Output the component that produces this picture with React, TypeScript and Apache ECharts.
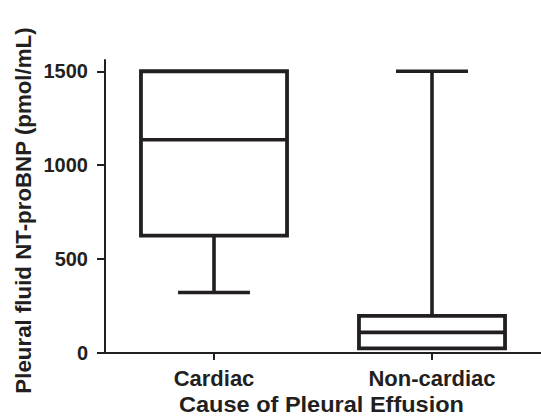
import React, { useEffect, useRef } from "react";
import * as echarts from "echarts";

const categories = ["Cardiac", "Non-cardiac"];
// [min, Q1, median, Q3, max]
const boxValues = [
  [322, 625, 1135, 1500, 1500],
  [25, 25, 110, 198, 1500],
];
const yTicks = [0, 500, 1000, 1500];
const yTitle = "Pleural fluid NT-proBNP (pmol/mL)";
const xTitle = "Cause of Pleural Effusion";

const INK = "#231f20";
const FONT = "'Liberation Sans', Arial, sans-serif";

export default function App() {
  const ref = useRef<HTMLDivElement>(null);
  useEffect(() => {
    if (!ref.current) return;
    const chart = echarts.init(ref.current, null, { renderer: "svg" });
    const data = boxValues.map((v, i) => [i, ...v]);
    chart.setOption({
      animation: false,
      backgroundColor: "#ffffff",
      grid: { left: 105, right: 0, top: 60, bottom: 63, containLabel: false, outerBoundsMode: "none" },
      graphic: [
        {
          type: "text",
          x: 23,
          y: 210.5,
          rotation: Math.PI / 2,
          style: {
            text: yTitle,
            fill: INK,
            font: `bold 22.3px ${FONT}`,
            align: "center",
            verticalAlign: "middle",
          },
        },
        {
          type: "text",
          x: 321.5,
          y: 404,
          scaleX: 1.07,
          style: {
            text: xTitle,
            fill: INK,
            font: `bold 22px ${FONT}`,
            align: "center",
            verticalAlign: "middle",
          },
        },
      ],
      xAxis: {
        type: "category",
        data: categories,
        boundaryGap: true,
        axisLine: { show: true, lineStyle: { color: INK, width: 2 } },
        axisTick: { show: true, alignWithLabel: true, length: 7, lineStyle: { color: INK, width: 2 } },
        axisLabel: { color: INK, fontSize: 22, fontWeight: "bold", fontFamily: FONT, margin: 14 },
        splitLine: { show: false },
      },
      yAxis: {
        type: "value",
        min: 0,
        max: 1560,
        axisLine: { show: true, lineStyle: { color: INK, width: 2 } },
        axisTick: { show: true, length: 8, customValues: yTicks, lineStyle: { color: INK, width: 2 } },
        axisLabel: {
          color: INK,
          fontSize: 20,
          fontWeight: "bold",
          fontFamily: FONT,
          margin: 17,
          customValues: yTicks,
          formatter: (v: number) => String(v),
        },
        splitLine: { show: false },
      },
      series: [
        {
          type: "custom",
          data,
          encode: { x: 0, y: [1, 2, 3, 4, 5] },
          renderItem: (params: any, api: any) => {
            const idx = api.value(0);
            const mn = api.value(1);
            const q1 = api.value(2);
            const med = api.value(3);
            const q3 = api.value(4);
            const mx = api.value(5);
            const band = api.size([1, 0])[0];
            const bw = band * 0.67;
            const cw = band * 0.33;
            const cx = api.coord([idx, 0])[0];
            const y = (v: number) => api.coord([idx, v])[1];
            const style = { stroke: INK, lineWidth: 3.6, fill: null };
            const children: any[] = [];
            children.push({
              type: "rect",
              shape: { x: cx - bw / 2, y: y(q3), width: bw, height: y(q1) - y(q3) },
              style: { stroke: INK, lineWidth: 3.8, fill: "rgba(0,0,0,0)" },
            });
            children.push({
              type: "line",
              shape: { x1: cx - bw / 2, y1: y(med), x2: cx + bw / 2, y2: y(med) },
              style,
            });
            if (mx > q3) {
              children.push({ type: "line", shape: { x1: cx, y1: y(q3), x2: cx, y2: y(mx) }, style });
              children.push({ type: "line", shape: { x1: cx - cw / 2, y1: y(mx), x2: cx + cw / 2, y2: y(mx) }, style });
            }
            if (mn < q1) {
              children.push({ type: "line", shape: { x1: cx, y1: y(q1), x2: cx, y2: y(mn) }, style });
              children.push({ type: "line", shape: { x1: cx - cw / 2, y1: y(mn), x2: cx + cw / 2, y2: y(mn) }, style });
            }
            return { type: "group", children };
          },
        },
      ],
    });
    return () => chart.dispose();
  }, []);
  return <div ref={ref} style={{ width: 541, height: 416, position: "absolute", left: 0, top: 0 }} />;
}
